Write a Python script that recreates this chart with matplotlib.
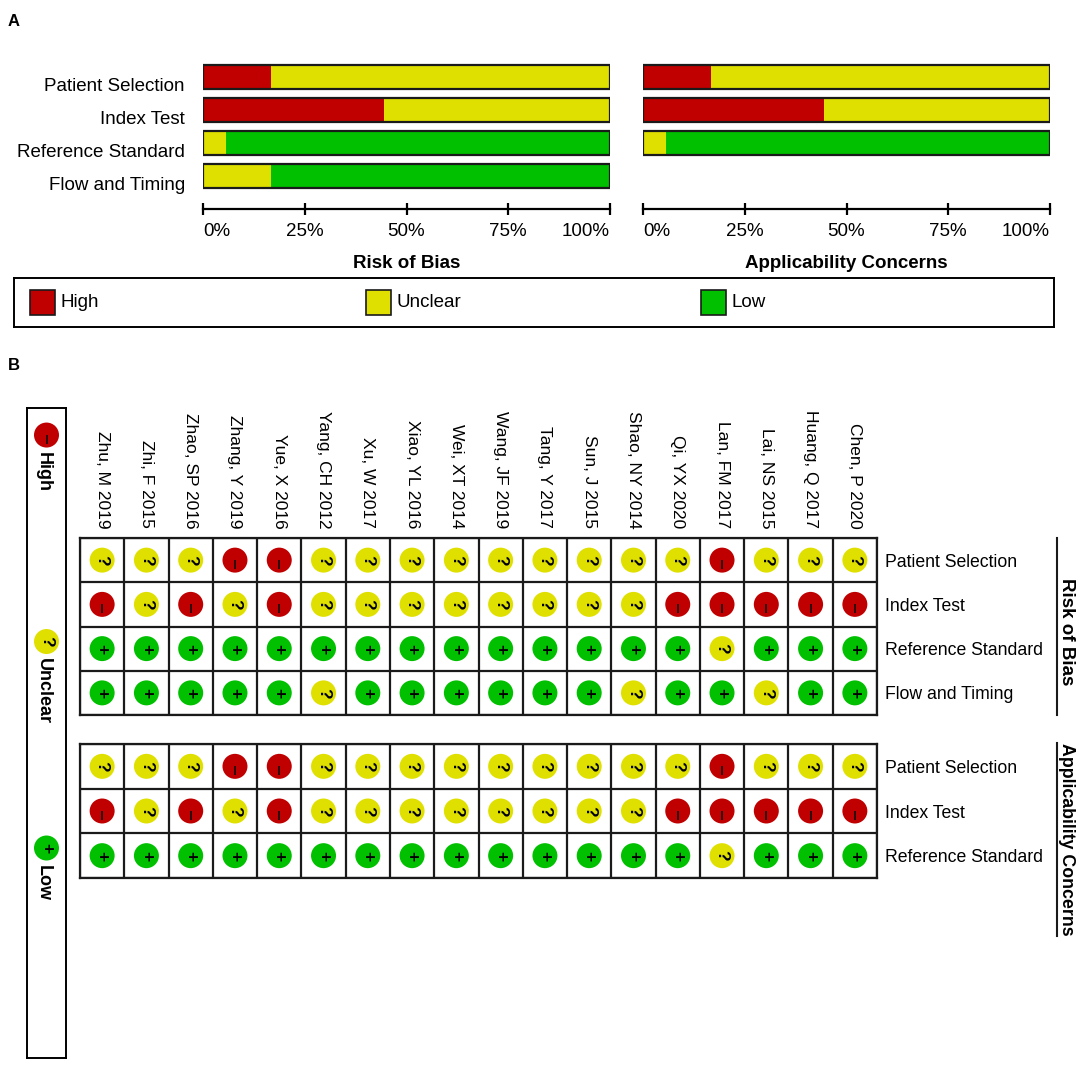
import numpy as np
import matplotlib
matplotlib.use("Agg")
import matplotlib.pyplot as plt
from matplotlib.transforms import ScaledTranslation
from matplotlib.lines import Line2D

plt.rcParams['font.family'] = ['Liberation Sans', 'DejaVu Sans']

# --- data: QUADAS-2 judgements per study (H = high, U = unclear, L = low) ---
studies = ["Zhu, M 2019", "Zhi, F 2015", "Zhao, SP 2016", "Zhang, Y 2019", "Yue, X 2016",
           "Yang, CH 2012", "Xu, W 2017", "Xiao, YL 2016", "Wei, XT 2014", "Wang, JF 2019",
           "Tang, Y 2017", "Sun, J 2015", "Shao, NY 2014", "Qi, YX 2020", "Lan, FM 2017",
           "Lai, NS 2015", "Huang, Q 2017", "Chen, P 2020"]

rob_domains = ["Patient Selection", "Index Test", "Reference Standard", "Flow and Timing"]
ac_domains = ["Patient Selection", "Index Test", "Reference Standard"]

rob_patient = list("UUUHHUUUUUUUUUHUUU")
rob_index = list("HUHUHUUUUUUUUHHHHH")
rob_reference = list("LLLLLLLLLLLLLLULLL")
rob_flow = list("LLLLLULLLLLLULLULL")

ac_patient = list("UUUHHUUUUUUUUUHUUU")
ac_index = list("HUHUHUUUUUUUUHHHHH")
ac_reference = list("LLLLLLLLLLLLLLULLL")

rob_rows = [rob_patient, rob_index, rob_reference, rob_flow]
ac_rows = [ac_patient, ac_index, ac_reference]

legend_keys = ["H", "U", "L"]
legend_labels = ["High", "Unclear", "Low"]
pct_ticks = [0, 25, 50, 75, 100]

colors = {"H": "#C00000", "U": "#E0E000", "L": "#00C000"}
symbols = {"U": "?", "L": "+"}
# rotated minus sign: short stroke running down from the circle centre
minus_marker = [(0, 0), (0, -1)]

W, H = 1084, 1073
fig = plt.figure(figsize=(W / 100, H / 100), dpi=100)


def px_axes(x0, y0, x1, y1):
    # axes placed by pixel box (top-left origin)
    return fig.add_axes([x0 / W, 1 - y1 / H, (x1 - x0) / W, (y1 - y0) / H])


# ---------------- Panel A: summary bars ----------------
def summary_bars(ax, rows, names, title, show_names):
    y = np.arange(len(rows))
    left = np.zeros(len(rows))
    for key in legend_keys:
        pct = np.array([100 * r.count(key) / len(r) for r in rows])
        ax.barh(y, pct, left=left, height=0.727, color=colors[key], lw=0)
        left += pct
    ax.barh(y, 100, height=0.727, fill=False, edgecolor='#1a1a1a', lw=1.6)
    ax.set_xlim(0, 100)
    ax.set_ylim(3.985, -0.515)
    for s in ['top', 'right', 'left']:
        ax.spines[s].set_visible(False)
    ax.spines['bottom'].set_linewidth(1.6)
    ax.set_xticks(pct_ticks, [f"{t}%" for t in pct_ticks], fontsize=13.5)
    ax.tick_params(axis='x', direction='inout', length=8, width=1.6, pad=6)
    labels = ax.get_xticklabels()
    labels[0].set_ha('left')
    labels[-1].set_ha('right')
    ax.set_xlabel(title, fontsize=13.5, fontweight='bold', labelpad=11)
    if show_names:
        ax.set_yticks(y, names, fontsize=13.5)
        ax.tick_params(axis='y', length=0, pad=13)
        shift = ScaledTranslation(0, -7 / 100, fig.dpi_scale_trans)
        for lab in ax.get_yticklabels():
            lab.set_transform(lab.get_transform() + shift)
    else:
        ax.set_yticks([])


ax_rob = px_axes(203, 60.5, 610, 209)
summary_bars(ax_rob, rob_rows, rob_domains, "Risk of Bias", True)
ax_ac = px_axes(643, 60.5, 1050, 209)
summary_bars(ax_ac, ac_rows, ac_domains, "Applicability Concerns", False)

# legend box
ax_key = px_axes(14, 278, 1054, 327)
ax_key.set_xlim(-0.085, 3.013)
ax_key.set_ylim(-0.5, 0.5)
ax_key.set_xticks([])
ax_key.set_yticks([])
for s in ax_key.spines.values():
    s.set_linewidth(1.4)
idx = np.arange(len(legend_keys))
ax_key.bar(idx, 0.49, bottom=-0.245, width=25 / 335.75,
           color=[colors[k] for k in legend_keys], edgecolor='#1a1a1a', lw=1.2)
for i, lab in zip(idx, legend_labels):
    ax_key.text(i + 18 / 335.75, 0, lab, fontsize=13.5, va='center', ha='left')

fig.text(8 / W, 1 - 22 / H, "A", fontsize=12, fontweight='bold', va='center')
fig.text(8 / W, 1 - 366 / H, "B", fontsize=12, fontweight='bold', va='center')


# ---------------- Panel B: traffic-light grid ----------------
def draw_marks(ax, xs, ys, keys):
    keys = np.array(keys)
    ax.scatter(xs, ys, s=324, c=[colors[k] for k in keys], lw=0, zorder=3)
    high = keys == "H"
    ax.scatter(xs[high], ys[high], s=180, marker=minus_marker, color='#111111',
               lw=1.2, zorder=4)
    for x, y, k in zip(xs, ys, keys):
        if k != "H":
            ax.annotate(symbols[k], (x, y), rotation=-90, ha='center', va='center',
                        fontsize=12.5, fontweight='bold', zorder=4)


def grid_panel(ax, rows, names, show_studies):
    n_rows, n_cols = len(rows), len(studies)
    ax.set_xlim(-0.5, n_cols - 0.5)
    ax.set_ylim(n_rows - 0.5, -0.5)
    ax.set_xticks(np.arange(-0.5, n_cols), minor=True)
    ax.set_yticks(np.arange(-0.5, n_rows), minor=True)
    ax.grid(which='minor', color='#1a1a1a', lw=1.6)
    ax.tick_params(which='minor', length=0)
    for s in ax.spines.values():
        s.set_linewidth(1.6)
        s.set_color('#1a1a1a')
    for i, row in enumerate(rows):
        draw_marks(ax, np.arange(n_cols), np.full(n_cols, i), row)
    ax.yaxis.tick_right()
    ax.set_yticks(range(n_rows), names, fontsize=12.7)
    ax.tick_params(axis='y', length=0, pad=6)
    if show_studies:
        ax.xaxis.tick_top()
        ax.set_xticks(range(n_cols), studies, rotation=270, fontsize=12.5)
        ax.tick_params(axis='x', length=0, pad=7)
    else:
        ax.set_xticks([])


ax_top = px_axes(80, 538, 877, 715)
grid_panel(ax_top, rob_rows, rob_domains, True)
ax_bot = px_axes(80, 744, 877, 878)
grid_panel(ax_bot, ac_rows, ac_domains, False)

# section titles (rotated, underlined)
t_rob = fig.text(1067 / W, 1 - 632 / H, "Risk of Bias", rotation=270, fontsize=13.5,
                 fontweight='bold', ha='center', va='center')
t_ac = fig.text(1067 / W, 1 - 743 / H, "Applicability Concerns", rotation=270, fontsize=12.8,
                fontweight='bold', ha='center', va='top')
line_x = (1057 - 80) / (877 - 80)
ax_top.plot([line_x, line_x], [0, 1], transform=ax_top.transAxes, clip_on=False,
            color='#1a1a1a', lw=1.5)

# left key box
ax_lk = px_axes(27, 408, 66, 1058)
ax_lk.set_xlim(-0.5, 0.5)
ax_lk.set_ylim(3.017, -0.131)
ax_lk.set_xticks([])
ax_lk.set_yticks([])
for s in ax_lk.spines.values():
    s.set_linewidth(1.4)
draw_marks(ax_lk, np.zeros(len(legend_keys)), idx, legend_keys)
for i, lab in zip(idx, legend_labels):
    ax_lk.annotate(lab, (0, i), xytext=(-2.5, -12), textcoords='offset points',
                   rotation=270, ha='center', va='top', fontsize=13, fontweight='bold')

# underline for "Applicability Concerns" spans the text itself
fig.canvas.draw()
bb = t_ac.get_window_extent()
fig.add_artist(Line2D([1057 / W, 1057 / W], [bb.y0 / H, bb.y1 / H],
                      transform=fig.transFigure, color='#1a1a1a', lw=1.5))

fig.savefig("out.png", dpi=100)
